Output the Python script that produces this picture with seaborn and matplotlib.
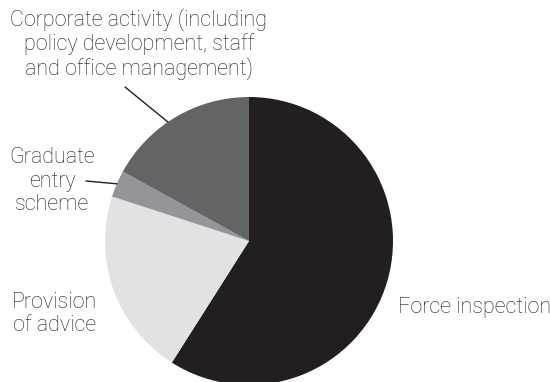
import numpy as np
import matplotlib
matplotlib.use("Agg")
import matplotlib.pyplot as plt
import seaborn as sns

# Data (clockwise from 12 o'clock)
categories = ["Force inspection", "Provision of advice", "Graduate entry scheme",
              "Corporate activity (including policy development, staff and office management)"]
values = [59, 21, 3, 17]
colors = ["#231f20", "#e1e2e3", "#939598", "#636466"]

sns.set_theme(style="white")
plt.rcParams['font.family'] = ['Roboto', 'DejaVu Sans']

W, H = 550, 382
fig = plt.figure(figsize=(W / 100, H / 100), dpi=100)
ax = fig.add_axes([0, 0, 1, 1])

cx, cy, r = 249, H - 241, 144
wedges, _ = ax.pie(values, colors=colors, startangle=90, counterclock=False,
                   center=(cx, cy), radius=r,
                   wedgeprops=dict(linewidth=0, edgecolor="none"))
ax.set_xlim(0, W)
ax.set_ylim(0, H)
ax.set_aspect("equal")
ax.axis("off")

txt_kw = dict(fontsize=15.5, fontweight="light", color="#231f20", linespacing=1.13)

def edge_point(w, frac=0.5):
    ang = np.deg2rad(w.theta1 + frac * (w.theta2 - w.theta1))
    return cx + r * np.cos(ang), cy + r * np.sin(ang)

# Force inspection
ax.text(398, H - 307, "Force inspection", ha="left", va="center", **txt_kw)
# Provision of advice
ax.text(55, H - 314, "Provision\nof advice", ha="center", va="center", **txt_kw)
# Graduate entry scheme
ax.text(52, H - 181, "Graduate\nentry\nscheme", ha="center", va="center", **txt_kw)
ex, ey = edge_point(wedges[2])
ax.plot([86, ex], [H - 181, ey], color="#231f20", lw=1.0)
# Corporate
ax.text(139, H - 44,
        "Corporate activity (including\npolicy development, staff\nand office management)",
        ha="center", va="center", **txt_kw)
ex, ey = edge_point(wedges[3], 0.56)
ax.plot([125, ex], [H - 87, ey], color="#231f20", lw=1.0)

fig.savefig("out.png", dpi=100, facecolor="white")
